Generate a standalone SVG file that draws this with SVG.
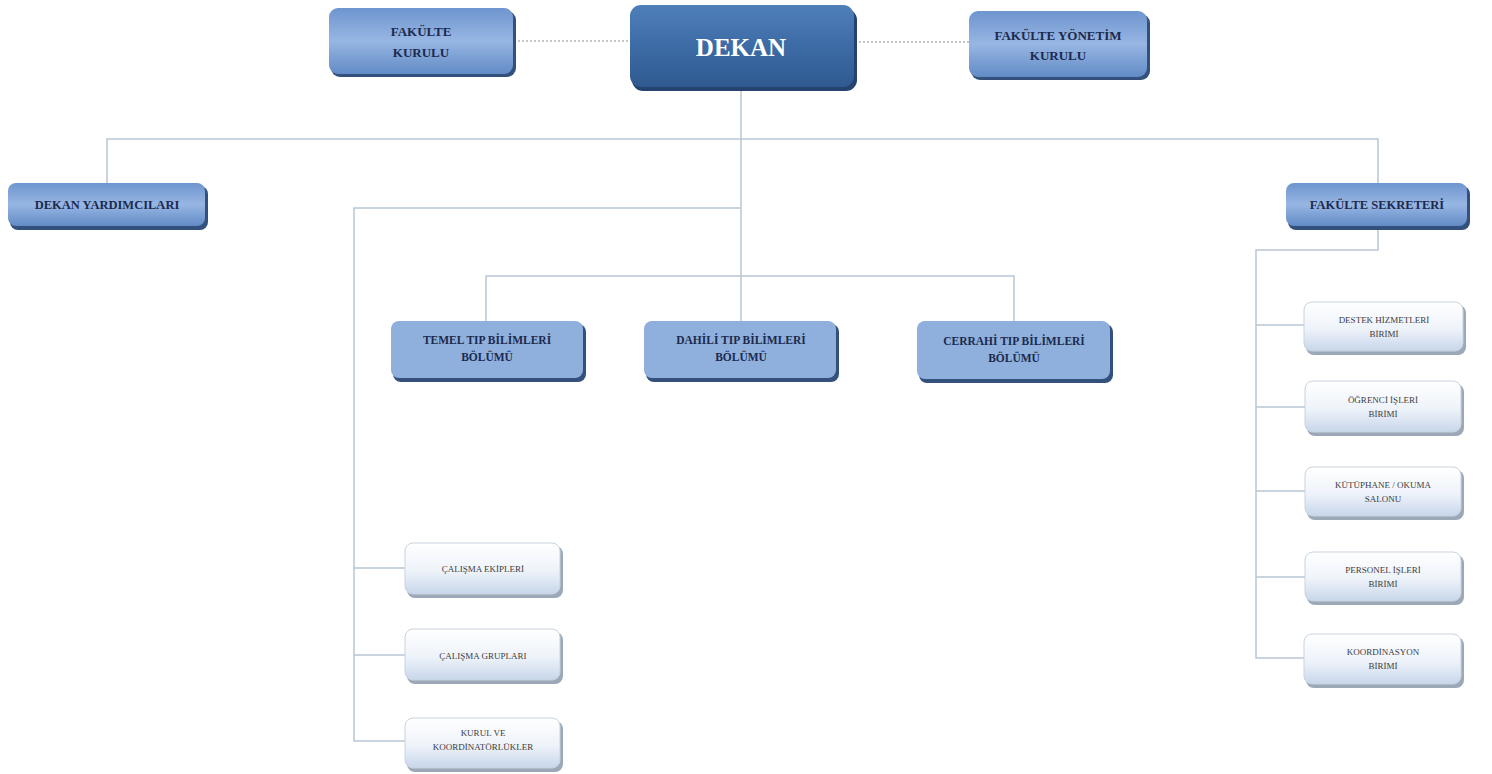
<svg xmlns="http://www.w3.org/2000/svg" width="1492" height="774" viewBox="0 0 1492 774">
<defs>
<linearGradient id="gDekan" x1="0" y1="0" x2="0" y2="1">
<stop offset="0" stop-color="#4f7fb9"/><stop offset="0.5" stop-color="#3d6ba5"/><stop offset="1" stop-color="#2f5a91"/>
</linearGradient>
<linearGradient id="gMid" x1="0" y1="0" x2="0" y2="1">
<stop offset="0" stop-color="#6e95cf"/><stop offset="0.5" stop-color="#97b6e3"/><stop offset="1" stop-color="#628bc6"/>
</linearGradient>
<linearGradient id="gLight" x1="0" y1="0" x2="0" y2="1">
<stop offset="0" stop-color="#ffffff"/><stop offset="0.55" stop-color="#eef3fa"/><stop offset="1" stop-color="#c7d6ea"/>
</linearGradient>
<style>
.sh-dark{fill:#26426e}
.sh-mid{fill:#33517c}
.sh-light{fill:#9aa8b8}
.dekan{fill:url(#gDekan)}
.mid{fill:url(#gMid)}
.bolum{fill:#8fb0dc}
.light{fill:url(#gLight);stroke:#c9d3df;stroke-width:1}
.t{font-family:"Liberation Serif","Times New Roman",serif;text-anchor:middle}
.tb{font-weight:bold;fill:#1b2a4e}
.tw{font-weight:bold;fill:#ffffff;font-size:25px}
.tl{fill:#3c3c3c;font-size:9px}
.ln{fill:none;stroke:#b9c6d4;stroke-width:1.5}
.dot{fill:none;stroke:#8a8f96;stroke-width:1.2;stroke-dasharray:2 2}
</style>
</defs>
<rect width="1492" height="774" fill="#ffffff"/>

<g id="connectors">
<line class="dot" x1="514" y1="41" x2="630" y2="41"/>
<line class="dot" x1="855" y1="42" x2="969" y2="42"/>
<path class="ln" d="M741 88 V321"/>
<path class="ln" d="M107 183 V139 H1378 V183"/>
<path class="ln" d="M741 208 H354 V741 H405"/>
<path class="ln" d="M354 568 H405 M354 655 H405"/>
<path class="ln" d="M486 321 V276 H1014 V321"/>
<path class="ln" d="M1378 228 V250 H1256 V658 H1304"/>
<path class="ln" d="M1256 325 H1304 M1256 407 H1305 M1256 491 H1305 M1256 577 H1305"/>
</g>

<g id="dekan">
<rect class="sh-dark" x="632" y="9" width="225" height="82" rx="11"/>
<rect class="dekan" x="630" y="5" width="224" height="82" rx="11"/>
<text class="t tw" x="741" y="56">DEKAN</text>
</g>

<g id="fakulte-kurulu">
<rect class="sh-mid" x="331" y="11" width="185" height="66" rx="9"/>
<rect class="mid" x="329" y="8" width="184" height="66" rx="9"/>
<text class="t tb" x="421" y="36" font-size="13">FAKÜLTE</text>
<text class="t tb" x="421" y="57" font-size="13">KURULU</text>
</g>

<g id="fakulte-yonetim-kurulu">
<rect class="sh-mid" x="971" y="14" width="179" height="66" rx="9"/>
<rect class="mid" x="969" y="11" width="178" height="66" rx="9"/>
<text class="t tb" x="1058" y="40" font-size="13">FAKÜLTE YÖNETİM</text>
<text class="t tb" x="1058" y="60" font-size="13">KURULU</text>
</g>

<g id="dekan-yardimcilari">
<rect class="sh-mid" x="10" y="186" width="198" height="44" rx="8"/>
<rect class="mid" x="8" y="183" width="197" height="43" rx="8"/>
<text class="t tb" x="107" y="209" font-size="12.5">DEKAN YARDIMCILARI</text>
</g>

<g id="fakulte-sekreteri">
<rect class="sh-mid" x="1288" y="186" width="182" height="44" rx="8"/>
<rect class="mid" x="1286" y="183" width="181" height="43" rx="8"/>
<text class="t tb" x="1377" y="209" font-size="12.5">FAKÜLTE SEKRETERİ</text>
</g>

<g id="temel-tip">
<rect class="sh-mid" x="393" y="324" width="193" height="58" rx="8"/>
<rect class="bolum" x="391" y="321" width="192" height="57" rx="8"/>
<text class="t tb" x="487" y="344" font-size="11.5">TEMEL TIP BİLİMLERİ</text>
<text class="t tb" x="487" y="361" font-size="11.5">BÖLÜMÜ</text>
</g>

<g id="dahili-tip">
<rect class="sh-mid" x="646" y="324" width="193" height="58" rx="8"/>
<rect class="bolum" x="644" y="321" width="192" height="57" rx="8"/>
<text class="t tb" x="741" y="344" font-size="11.5">DAHİLİ TIP BİLİMLERİ</text>
<text class="t tb" x="741" y="361" font-size="11.5">BÖLÜMÜ</text>
</g>

<g id="cerrahi-tip">
<rect class="sh-mid" x="919" y="324" width="194" height="59" rx="8"/>
<rect class="bolum" x="917" y="321" width="193" height="58" rx="8"/>
<text class="t tb" x="1014" y="345" font-size="11.5">CERRAHİ TIP BİLİMLERİ</text>
<text class="t tb" x="1014" y="362" font-size="11.5">BÖLÜMÜ</text>
</g>

<g id="calisma-ekipleri">
<rect class="sh-light" x="407" y="546" width="156" height="52" rx="8"/>
<rect class="light" x="405" y="543" width="155" height="51" rx="8"/>
<text class="t tl" x="483" y="572" font-size="9.5">ÇALIŞMA EKİPLERİ</text>
</g>

<g id="calisma-gruplari">
<rect class="sh-light" x="407" y="632" width="156" height="52" rx="8"/>
<rect class="light" x="405" y="629" width="155" height="51" rx="8"/>
<text class="t tl" x="483" y="659" font-size="9.5">ÇALIŞMA GRUPLARI</text>
</g>

<g id="kurul-ve-koordinatorlukler">
<rect class="sh-light" x="407" y="721" width="156" height="51" rx="8"/>
<rect class="light" x="405" y="718" width="155" height="50" rx="8"/>
<text class="t tl" x="483" y="736" font-size="9.5">KURUL VE</text>
<text class="t tl" x="483" y="750" font-size="9.5">KOORDİNATÖRLÜKLER</text>
</g>

<g id="destek-hizmetleri">
<rect class="sh-light" x="1306" y="305" width="160" height="50" rx="8"/>
<rect class="light" x="1304" y="302" width="159" height="49" rx="8"/>
<text class="t tl" x="1384" y="323">DESTEK HİZMETLERİ</text>
<text class="t tl" x="1384" y="337">BİRİMİ</text>
</g>

<g id="ogrenci-isleri">
<rect class="sh-light" x="1307" y="384" width="157" height="52" rx="8"/>
<rect class="light" x="1305" y="381" width="156" height="51" rx="8"/>
<text class="t tl" x="1383" y="403">ÖĞRENCİ İŞLERİ</text>
<text class="t tl" x="1383" y="417">BİRİMİ</text>
</g>

<g id="kutuphane">
<rect class="sh-light" x="1307" y="470" width="157" height="50" rx="8"/>
<rect class="light" x="1305" y="467" width="156" height="49" rx="8"/>
<text class="t tl" x="1383" y="488">KÜTÜPHANE / OKUMA</text>
<text class="t tl" x="1383" y="502">SALONU</text>
</g>

<g id="personel-isleri">
<rect class="sh-light" x="1307" y="555" width="157" height="50" rx="8"/>
<rect class="light" x="1305" y="552" width="156" height="49" rx="8"/>
<text class="t tl" x="1383" y="573">PERSONEL İŞLERİ</text>
<text class="t tl" x="1383" y="587">BİRİMİ</text>
</g>

<g id="koordinasyon">
<rect class="sh-light" x="1306" y="637" width="158" height="51" rx="8"/>
<rect class="light" x="1304" y="634" width="157" height="50" rx="8"/>
<text class="t tl" x="1383" y="655">KOORDİNASYON</text>
<text class="t tl" x="1383" y="669">BİRİMİ</text>
</g>
</svg>
